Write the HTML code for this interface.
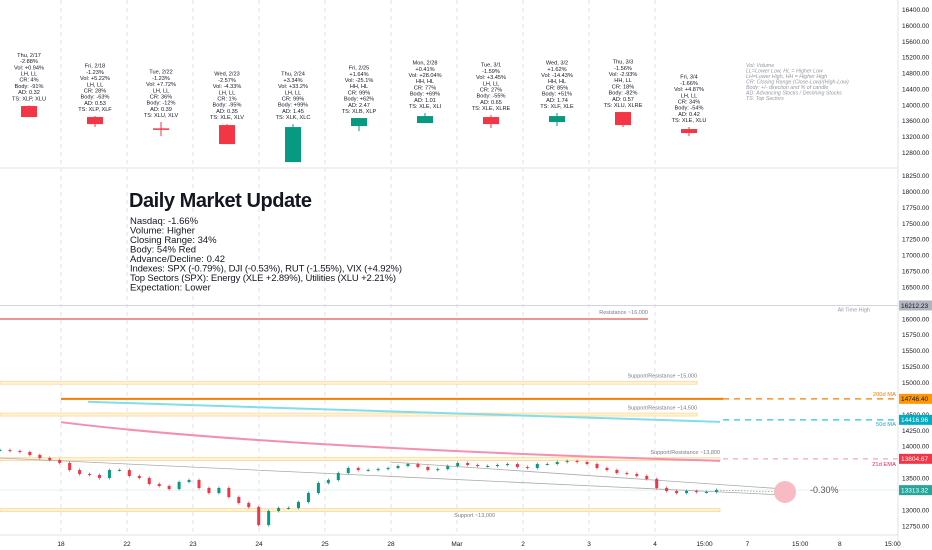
<!DOCTYPE html>
<html><head><meta charset="utf-8"><style>
html,body{margin:0;padding:0;background:#fff;}
svg{display:block;font-family:"Liberation Sans",sans-serif;}
</style></head><body>
<svg id="chart" width="932" height="550" viewBox="0 0 932 550">
<g id="grid"></g>
<g id="top"></g>
<g id="bottom"></g>
<g id="axes"></g>
<g>
<text x="129" y="207" font-size="20" font-weight="bold" fill="#131722" textLength="183">Daily Market Update</text>
<g font-size="9.5" fill="#131722">
<text x="130" y="224">Nasdaq: -1.66%</text>
<text x="130" y="233.5">Volume: Higher</text>
<text x="130" y="243">Closing Range: 34%</text>
<text x="130" y="252.5">Body: 54% Red</text>
<text x="130" y="262">Advance/Decline: 0.42</text>
<text x="130" y="271.5" textLength="272">Indexes: SPX (-0.79%), DJI (-0.53%), RUT (-1.55%), VIX (+4.92%)</text>
<text x="130" y="281" textLength="266">Top Sectors (SPX): Energy (XLE +2.89%), Utilities (XLU +2.21%)</text>
<text x="130" y="290.5">Expectation: Lower</text>
</g></g>
<g font-size="5.3" font-style="italic" fill="#9598a1">
<text x="746" y="67">Vol: Volume</text>
<text x="746" y="72.5">LL=Lower Low, HL = Higher Low</text>
<text x="746" y="78">LH=Lower High, HH = Higher High</text>
<text x="746" y="83.5">CR: Closing Range (Close-Low)/(High-Low)</text>
<text x="746" y="89">Body: +/- direction and % of candle</text>
<text x="746" y="94.5">AD: Advancing Stocks / Declining Stocks</text>
<text x="746" y="100">TS: Top Sectors</text>
</g>
</svg>
<script>
// ---- data ----
const dayLabels = ["Thu, 2/17","Fri, 2/18","Tue, 2/22","Wed, 2/23","Thu, 2/24","Fri, 2/25","Mon, 2/28","Tue, 3/1","Wed, 3/2","Thu, 3/3","Fri, 3/4"];
const dayOpen  = [13982,13705,13420,13503,12571,13478,13554,13705,13579,13831,13403];
const dayHigh  = [14000,13730,13579,13528,13528,13680,13806,13755,13806,13831,13453];
const dayLow   = [13705,13453,13226,13025,12571,13352,13554,13428,13478,13453,13226];
const dayClose = [13705,13528,13400,13025,13453,13680,13730,13528,13730,13503,13302];
const dayInfo = [
["-2.88%","Vol: +0.94%","LH, LL","CR: 4%","Body: -91%","AD: 0.32","TS: XLP, XLU"],
["-1.23%","Vol: +5.22%","LH, LL","CR: 28%","Body: -63%","AD: 0.53","TS: XLP, XLF"],
["-1.23%","Vol: +7.72%","LH, LL","CR: 36%","Body: -12%","AD: 0.39","TS: XLU, XLV"],
["-2.57%","Vol: -4.33%","LH, LL","CR: 1%","Body: -95%","AD: 0.35","TS: XLE, XLV"],
["+3.34%","Vol: +33.2%","LH, LL","CR: 99%","Body: +99%","AD: 1.45","TS: XLK, XLC"],
["+1.64%","Vol: -25.1%","HH, HL","CR: 99%","Body: +62%","AD: 2.47","TS: XLB, XLP"],
["+0.41%","Vol: +28.04%","HH, HL","CR: 77%","Body: +69%","AD: 1.01","TS: XLE, XLI"],
["-1.59%","Vol: +3.45%","LH, LL","CR: 27%","Body: -55%","AD: 0.65","TS: XLE, XLRE"],
["+1.62%","Vol: -14.43%","HH, HL","CR: 85%","Body: +51%","AD: 1.74","TS: XLF, XLE"],
["-1.56%","Vol: -2.93%","HH, LL","CR: 18%","Body: -82%","AD: 0.57","TS: XLU, XLRE"],
["-1.66%","Vol: +4.87%","LH, LL","CR: 34%","Body: -54%","AD: 0.42","TS: XLE, XLU"]];
const topTicks = [16400,16000,15600,15200,14800,14400,14000,13600,13200,12800];
const bottomTicks = [18250,18000,17750,17500,17250,17000,16750,16500,16000,15750,15500,15250,15000,14500,14250,14000,13500,13000,12750];
const xTickLabels = ["18","22","23","24","25","28","Mar","2","3","4","15:00","7","15:00","8","15:00"];
const xTickSlots  = [1,2,3,4,5,6,7,8,9,10,10.75,11.4,12.2,12.8,13.6];
const intraday = [13943,13928,13912,13865,13818,13786,13739,13629,13567,13551,13504,13629,13629,13535,13504,13410,13378,13331,13441,13472,13347,13268,13347,13205,13111,13048,12766,12986,13033,13033,13127,13268,13425,13472,13582,13661,13629,13629,13645,13661,13692,13724,13676,13629,13645,13692,13739,13708,13692,13692,13708,13724,13676,13661,13724,13724,13755,13771,13755,13724,13661,13629,13582,13567,13535,13488,13347,13300,13268,13300,13284,13284,13315];
const maLevels = {ma200:14746.40, ma50:14416.96, ema21:13804.67, last:13313.32, ath:16212.23};
const ma50Start = 14700, ema21Start = 14380;
const srLevels = [16000,15000,14500,13800,13000];
const srLabels = ["Resistance ~16,000","Support/Resistance ~15,000","Support/Resistance ~14,500","Support/Resistance ~13,800","Support ~13,000"];

// ---- scales ----
const yTop = v => 10 + (16400 - v) * (143/3600);
const yBot = v => 319 + (16000 - v) * 0.0637;
const xSlot = s => -5 + s*66;
const xDay = i => 29 + i*66;
const xIntra = i => i*9.95;
const NS="http://www.w3.org/2000/svg";
function el(tag, attrs, parent, txt){const e=document.createElementNS(NS,tag);for(const k in attrs)e.setAttribute(k,attrs[k]);if(txt!==undefined)e.textContent=txt;parent.appendChild(e);return e;}
const G=document.getElementById('grid'),T=document.getElementById('top'),B=document.getElementById('bottom'),A=document.getElementById('axes');
const RED="#f23645",GRN="#089981";

xTickSlots.slice(0,10).forEach(s=>{
  const l=el('line',{x1:xSlot(s),x2:xSlot(s),y1:0,y2:535,stroke:"#e0e3eb","stroke-dasharray":"4 4"},G);
  
  
});
el('line',{x1:0,x2:898,y1:168,y2:168,stroke:"#e0e3eb"},G);
el('line',{x1:898,x2:898,y1:0,y2:550,stroke:"#e0e3eb"},A);
el('line',{x1:0,x2:898,y1:535,y2:535,stroke:"#e0e3eb"},A);

dayLabels.forEach((lab,i)=>{
  const x=xDay(i), up=dayClose[i]>=dayOpen[i], c=up?GRN:RED;
  const g=el('g',{},T);
  
  
  el('line',{x1:x,x2:x,y1:yTop(dayHigh[i]),y2:yTop(dayLow[i]),stroke:c,"stroke-width":1},g);
  const yt=Math.min(yTop(dayOpen[i]),yTop(dayClose[i])), h=Math.max(1.5,Math.abs(yTop(dayOpen[i])-yTop(dayClose[i])));
  el('rect',{x:x-8,y:yt,width:16,height:h,fill:c},g);
  const lines=[lab].concat(dayInfo[i]);
  const base=yTop(dayHigh[i])-5-(lines.length-1)*6.2;
  const t=el('g',{"font-size":"5.6",fill:"#131722","text-anchor":"middle"},g);
  
  
  lines.forEach((s,k)=>el('text',{x:x,y:base+k*6.2},t,s));
});
topTicks.forEach(v=>{
  const t=el('text',{x:902,y:yTop(v)+2,"font-size":"6.5",fill:"#131722"},A,v.toFixed(2));
  
  
});

el('line',{x1:0,x2:898,y1:yBot(maLevels.ath),y2:yBot(maLevels.ath),stroke:"#d1d4dc"},B);
el('text',{x:870,y:yBot(maLevels.ath)+6,"font-size":"5.5",fill:"#9598a1","text-anchor":"end"},B,"All Time High");
srLevels.forEach((v,i)=>{
  const y=yBot(v), isRes=i===0, x2=isRes?648:(i===1||i===2?697:720);
  const g=el('g',{},B);
  
  
  if(isRes) el('line',{x1:0,x2:x2,y1:y,y2:y,stroke:"#e57373","stroke-width":1.5},g);
  else el('rect',{x:0,y:y-1.5,width:x2,height:3,fill:"#fff3d6",stroke:"#ffcc80","stroke-width":0.6},g);
  el('text',{x:x2-(i===4?225:0),y:y-(i===4?-7:5),"font-size":"5.5",fill:"#787b86","text-anchor":"end"},g,srLabels[i]);
});
const y200=yBot(maLevels.ma200), y50=yBot(maLevels.ma50), y21=yBot(maLevels.ema21);
el('line',{x1:61,x2:723,y1:y200,y2:y200,stroke:"#f57c00","stroke-width":2},B);
el('line',{x1:723,x2:898,y1:y200,y2:y200,stroke:"#f57c00","stroke-width":1.3,"stroke-dasharray":"6 5"},B);
el('line',{x1:88,x2:720,y1:yBot(ma50Start),y2:yBot(maLevels.ma50)+2,stroke:"#80deea","stroke-width":2},B);
el('line',{x1:723,x2:898,y1:y50,y2:y50,stroke:"#26c6da","stroke-width":1.2,"stroke-dasharray":"6 5"},B);
el('path',{d:`M61 ${yBot(ema21Start)} Q260 ${yBot(13990)} 720 ${y21+2}`,stroke:"#f48fb1",fill:"none","stroke-width":2},B);
el('line',{x1:723,x2:898,y1:y21,y2:y21,stroke:"#f48fb1","stroke-width":1,"stroke-dasharray":"5 5"},B);
el('text',{x:896,y:y200-3,"font-size":"5.8",fill:"#f57c00","text-anchor":"end"},B,"200d MA");
el('text',{x:896,y:y50+6,"font-size":"5.8",fill:"#26a6b8","text-anchor":"end"},B,"50d MA");
el('text',{x:896,y:y21+7,"font-size":"5.8",fill:"#e91e63","text-anchor":"end"},B,"21d EMA");
const yl=yBot(maLevels.last);
el('line',{x1:0,x2:898,y1:yl,y2:yl,stroke:"#e0f2f1"},B);
el('line',{x1:0,y1:458,x2:785,y2:495,stroke:"#aaa","stroke-width":0.8},B);
el('line',{x1:390,y1:462,x2:785,y2:489,stroke:"#aaa","stroke-width":0.8},B);
el('line',{x1:717,y1:yl,x2:785,y2:492,stroke:"#888","stroke-width":0.6,"stroke-dasharray":"1.5 1.5"},B);
el('circle',{cx:785,cy:492,r:11,fill:"#f8bbc4"},B);
el('text',{x:810,y:493,"font-size":"9",fill:"#555"},B,"-0.30%");
intraday.forEach((v,i)=>{
  const prev=i?intraday[i-1]:v, up=v>=prev, c=up?GRN:RED, x=xIntra(i);
  const y1=yBot(Math.max(v,prev)), y2=yBot(Math.min(v,prev));
  const g=el('g',{},B);
  
  
  el('line',{x1:x,x2:x,y1:y1-1.5,y2:y2+1.5,stroke:c,"stroke-width":0.7},g);
  el('rect',{x:x-1.5,y:y1,width:3,height:Math.max(1,y2-y1),fill:c},g);
});
bottomTicks.forEach(v=>{
  const t=el('text',{x:902,y:yBot(v)+2.3,"font-size":"6.5",fill:"#131722"},A,v.toFixed(2));
  
  
});
[[maLevels.ath,"#b2b5be","#131722"],[maLevels.ma200,"#ff9800","#131722"],[maLevels.ma50,"#00acc1","#fff"],[maLevels.ema21,"#f23645","#fff"],[maLevels.last,"#26a69a","#fff"]].forEach(([v,bg,fg])=>{
  const g=el('g',{},A);
  
  
  el('rect',{x:899,y:yBot(v)-5,width:33,height:10,fill:bg},g);
  el('text',{x:901,y:yBot(v)+2.3,"font-size":"6.5",fill:fg},g,v.toFixed(2));
});
xTickLabels.forEach((s,i)=>{
  const t=el('text',{x:xSlot(xTickSlots[i]),y:546,"font-size":"6.5",fill:"#131722","text-anchor":"middle"},A,s);
  
  
});
</script>
</body></html>
